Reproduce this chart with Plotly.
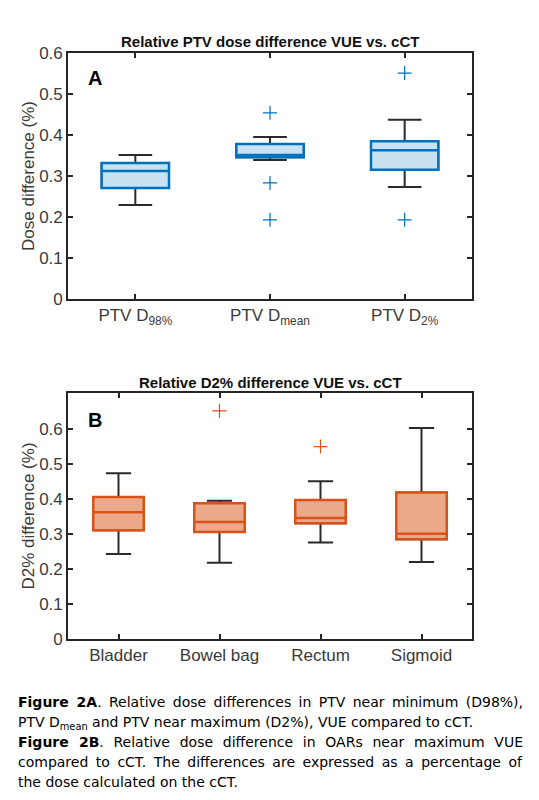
import plotly.graph_objects as go

# ---- Panel A data (PTV) ----
a_labels = ["PTV D<sub>98%</sub>", "PTV D<sub>mean</sub>", "PTV D<sub>2%</sub>"]
a_q1 = [0.271, 0.346, 0.315]
a_med = [0.312, 0.351, 0.363]
a_q3 = [0.332, 0.378, 0.385]
a_lo = [0.229, 0.339, 0.273]
a_hi = [0.351, 0.395, 0.437]
a_out_x = [2, 2, 2, 3, 3]
a_out_y = [0.454, 0.283, 0.193, 0.551, 0.193]

# ---- Panel B data (OARs) ----
b_labels = ["Bladder", "Bowel bag", "Rectum", "Sigmoid"]
b_q1 = [0.311, 0.306, 0.331, 0.285]
b_med = [0.362, 0.334, 0.346, 0.301]
b_q3 = [0.406, 0.388, 0.397, 0.419]
b_lo = [0.243, 0.218, 0.276, 0.220]
b_hi = [0.474, 0.395, 0.451, 0.603]
b_out_x = [2, 3]
b_out_y = [0.652, 0.550]

W, H = 539, 800
BLUE, BLUE_FILL = "#0072BD", "#C9E1F1"
ORANGE, ORANGE_FILL = "#D95319", "#EBA98A"
DARK = "#2B2B2B"
AX = "#262626"

fig = go.Figure()

def add_panel(xa, ya, labels, q1, med, q3, lo, hi, ox, oy, edge, fill):
    xs = list(range(1, len(labels) + 1))
    # whiskers (dark)
    fig.add_trace(go.Box(x=xs, q1=q1, median=med, q3=q3, lowerfence=lo, upperfence=hi,
                         width=0.5, whiskerwidth=0.5, line=dict(color=DARK, width=2),
                         fillcolor="rgba(0,0,0,0)", boxpoints=False, hoverinfo="skip",
                         xaxis=xa, yaxis=ya, showlegend=False))
    # colored box
    fig.add_trace(go.Box(x=xs, q1=q1, median=med, q3=q3, lowerfence=q1, upperfence=q3,
                         width=0.5, whiskerwidth=0, line=dict(color=edge, width=2.5),
                         fillcolor=fill, boxpoints=False,
                         xaxis=xa, yaxis=ya, showlegend=False))
    # outliers
    fig.add_trace(go.Scatter(x=ox, y=oy, mode="markers",
                             marker=dict(symbol="cross-thin", size=10,
                                         line=dict(color=edge, width=1.2)),
                             xaxis=xa, yaxis=ya, showlegend=False))

add_panel("x", "y", a_labels, a_q1, a_med, a_q3, a_lo, a_hi, a_out_x, a_out_y, BLUE, BLUE_FILL)
add_panel("x2", "y2", b_labels, b_q1, b_med, b_q3, b_lo, b_hi, b_out_x, b_out_y, ORANGE, ORANGE_FILL)

xdom = [68 / W, 472 / W]
LBL = "#3a3a3a"
tickfont = dict(family="Liberation Sans", size=17, color=LBL)
common_x = dict(showline=True, linecolor=AX, linewidth=1.6, mirror="allticks",
                ticks="inside", ticklen=5, tickwidth=1.6, tickcolor=AX,
                showgrid=False, zeroline=False, tickfont=tickfont, domain=xdom)
common_y = dict(showline=True, linecolor=AX, linewidth=1.6, mirror="allticks",
                ticks="inside", ticklen=5, tickwidth=1.6, tickcolor=AX,
                showgrid=False, zeroline=False, tickfont=tickfont,
                tickvals=[0, 0.1, 0.2, 0.3, 0.4, 0.5, 0.6],
                ticktext=["0", "0.1", "0.2", "0.3", "0.4", "0.5", "0.6"])

fig.update_layout(
    width=W, height=H, margin=dict(l=0, r=0, t=0, b=0, autoexpand=False),
    paper_bgcolor="white", plot_bgcolor="white", boxmode="overlay",
    xaxis=dict(common_x, range=[0.5, 3.5], tickvals=[1, 2, 3], ticktext=a_labels, anchor="y"),
    yaxis=dict(common_y, range=[0, 0.6], domain=[1 - 299 / H, 1 - 53 / H], anchor="x",
               title=dict(text="Dose difference (%)", standoff=0,
                          font=dict(family="Liberation Sans", size=17, color=LBL))),
    xaxis2=dict(common_x, range=[0.5, 4.5], tickvals=[1, 2, 3, 4], ticktext=b_labels, anchor="y2"),
    yaxis2=dict(common_y, range=[0, 0.703], domain=[1 - 639 / H, 1 - 393 / H], anchor="x2",
                title=dict(text="D2% difference (%)", standoff=0,
                           font=dict(family="Liberation Sans", size=17, color=LBL))),
)

ann = []
title_font = dict(family="Liberation Sans", size=15, color="#111111")
ann.append(dict(text="<b>Relative PTV dose difference VUE vs. cCT</b>", x=270 / W, y=1 - 42 / H,
                xref="paper", yref="paper", showarrow=False, font=title_font, xanchor="center", yanchor="middle"))
ann.append(dict(text="<b>Relative D2% difference VUE vs. cCT</b>", x=270 / W, y=1 - 382 / H,
                xref="paper", yref="paper", showarrow=False, font=title_font, xanchor="center", yanchor="middle"))
lab_font = dict(family="Liberation Sans", size=20, color="#000000")
ann.append(dict(text="<b>A</b>", x=95 / W, y=1 - 78 / H, xref="paper", yref="paper",
                showarrow=False, font=lab_font, xanchor="center", yanchor="middle"))
ann.append(dict(text="<b>B</b>", x=95 / W, y=1 - 420 / H, xref="paper", yref="paper",
                showarrow=False, font=lab_font, xanchor="center", yanchor="middle"))

caption_lines = [
    "<b>Figure 2A</b>. Relative dose differences in PTV near minimum (D98%),",
    "PTV D<sub>mean</sub> and PTV near maximum (D2%), VUE compared to cCT.",
    "<b>Figure 2B</b>. Relative dose difference in OARs near maximum VUE",
    "compared to cCT. The differences are expressed as a percentage of",
    "the dose calculated on the cCT.",
]
cap_y = [702, 723, 742, 762, 782]
cap_font = dict(family="DejaVu Sans", size=14, color="#000000")
for line, yy in zip(caption_lines, cap_y):
    ann.append(dict(text=line, x=16 / W, y=1 - yy / H, xref="paper", yref="paper",
                    showarrow=False, font=cap_font, xanchor="left", yanchor="middle", align="left"))

fig.update_layout(annotations=ann)

justify_js = """
document.body.style.margin='0px';
document.body.style.overflow='hidden';
function justifyCaption(){
  var starts = ['Figure 2A', 'PTV Dmean', 'Figure 2B', 'compared to'];
  var els = document.querySelectorAll('text.annotation-text');
  els.forEach(function(t){
    var s = t.textContent;
    var ok = starts.some(function(p){ return s.indexOf(p) === 0; });
    if (!ok) return;
    t.style.wordSpacing = '0px';
    var w = t.getBBox().width;
    var n = (s.match(/ /g) || []).length;
    if (n > 0) t.style.wordSpacing = ((505 - w) / n) + 'px';
  });
}
justifyCaption();
setTimeout(justifyCaption, 50);
"""
fig.write_html("out.html", config={"displayModeBar": False}, post_script=justify_js)
